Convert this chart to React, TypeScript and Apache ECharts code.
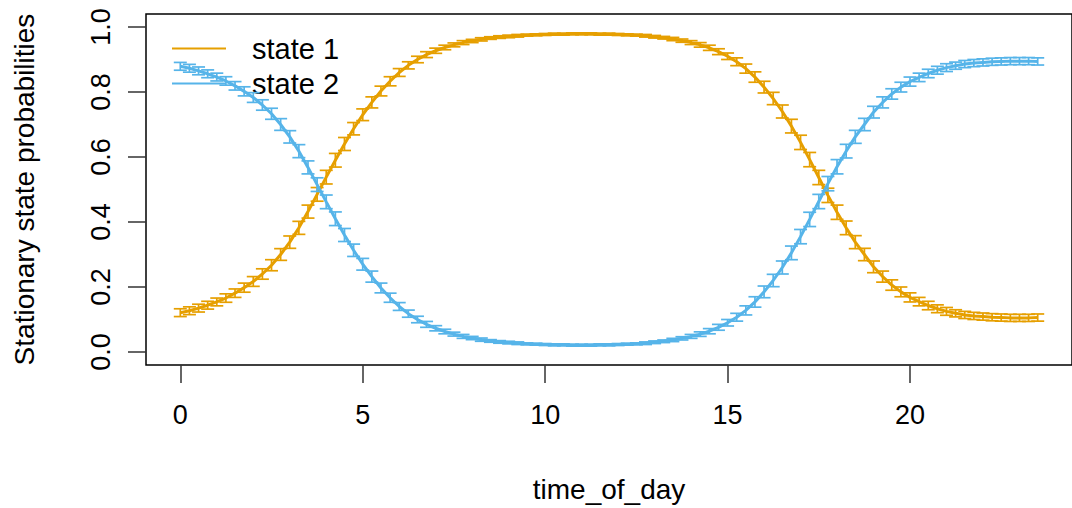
import React, { useEffect, useRef } from "react";
import * as echarts from "echarts";

const hours = [
  0, 0.25, 0.5, 0.75, 1, 1.25, 1.5, 1.75, 2, 2.25, 2.5, 2.75, 3, 3.25, 3.5, 3.75,
  4, 4.25, 4.5, 4.75, 5, 5.25, 5.5, 5.75, 6, 6.25, 6.5, 6.75, 7, 7.25, 7.5, 7.75,
  8, 8.25, 8.5, 8.75, 9, 9.25, 9.5, 9.75, 10, 10.25, 10.5, 10.75, 11, 11.25, 11.5, 11.75,
  12, 12.25, 12.5, 12.75, 13, 13.25, 13.5, 13.75, 14, 14.25, 14.5, 14.75, 15, 15.25, 15.5, 15.75,
  16, 16.25, 16.5, 16.75, 17, 17.25, 17.5, 17.75, 18, 18.25, 18.5, 18.75, 19, 19.25, 19.5, 19.75,
  20, 20.25, 20.5, 20.75, 21, 21.25, 21.5, 21.75, 22, 22.25, 22.5, 22.75, 23, 23.25, 23.5,
];

const state1 = [
  0.121, 0.127, 0.135, 0.144, 0.154, 0.166, 0.181, 0.198, 0.217, 0.24, 0.267, 0.3, 0.338, 0.382, 0.432, 0.485,
  0.538, 0.59, 0.64, 0.687, 0.73, 0.768, 0.803, 0.833, 0.86, 0.882, 0.9, 0.915, 0.927, 0.937, 0.945, 0.952,
  0.957, 0.962, 0.966, 0.969, 0.971, 0.973, 0.975, 0.976, 0.977, 0.978, 0.978, 0.979, 0.979, 0.979, 0.978, 0.978,
  0.977, 0.976, 0.975, 0.973, 0.97, 0.967, 0.963, 0.958, 0.952, 0.945, 0.936, 0.924, 0.91, 0.893, 0.872, 0.846,
  0.815, 0.78, 0.74, 0.695, 0.645, 0.592, 0.537, 0.482, 0.43, 0.382, 0.338, 0.3, 0.262, 0.232, 0.206, 0.185,
  0.168, 0.155, 0.143, 0.133, 0.125, 0.119, 0.114, 0.111, 0.109, 0.107, 0.106, 0.105, 0.105, 0.105, 0.106,
];

const state2 = [
  0.879, 0.873, 0.865, 0.856, 0.846, 0.834, 0.819, 0.802, 0.783, 0.76, 0.733, 0.7, 0.662, 0.618, 0.568, 0.515,
  0.462, 0.41, 0.36, 0.313, 0.27, 0.232, 0.197, 0.167, 0.14, 0.118, 0.1, 0.085, 0.073, 0.063, 0.055, 0.048,
  0.043, 0.038, 0.034, 0.031, 0.029, 0.027, 0.025, 0.024, 0.023, 0.022, 0.022, 0.021, 0.021, 0.021, 0.022, 0.022,
  0.023, 0.024, 0.025, 0.027, 0.03, 0.033, 0.037, 0.042, 0.048, 0.055, 0.064, 0.076, 0.09, 0.107, 0.128, 0.154,
  0.185, 0.22, 0.26, 0.305, 0.355, 0.408, 0.463, 0.518, 0.57, 0.618, 0.662, 0.7, 0.738, 0.768, 0.794, 0.815,
  0.832, 0.845, 0.857, 0.867, 0.875, 0.881, 0.886, 0.889, 0.891, 0.893, 0.894, 0.895, 0.895, 0.895, 0.894,
];

const ciHalf = [
  0.012, 0.012, 0.012, 0.012, 0.012, 0.013, 0.013, 0.014, 0.015, 0.016, 0.017, 0.018, 0.019, 0.02, 0.02, 0.021,
  0.021, 0.021, 0.02, 0.019, 0.018, 0.017, 0.015, 0.014, 0.012, 0.011, 0.01, 0.009, 0.008, 0.007, 0.006, 0.006,
  0.005, 0.005, 0.004, 0.004, 0.004, 0.004, 0.003, 0.003, 0.003, 0.003, 0.003, 0.003, 0.003, 0.003, 0.003, 0.003,
  0.003, 0.003, 0.003, 0.004, 0.004, 0.004, 0.005, 0.005, 0.006, 0.007, 0.008, 0.009, 0.01, 0.012, 0.014, 0.016,
  0.018, 0.019, 0.02, 0.021, 0.022, 0.022, 0.022, 0.022, 0.022, 0.021, 0.02, 0.019, 0.018, 0.017, 0.016, 0.015,
  0.014, 0.013, 0.013, 0.012, 0.012, 0.011, 0.011, 0.011, 0.011, 0.011, 0.011, 0.011, 0.011, 0.011, 0.011,
];

const xTicks = [0, 5, 10, 15, 20];
const yTicks = [0, 0.2, 0.4, 0.6, 0.8, 1.0];
const seriesNames = ["state 1", "state 2"];
const colors = ["#E69F00", "#56B4E9"];

const FONT = "Liberation Sans, Arial, sans-serif";

export default function App() {
  const ref = useRef<HTMLDivElement>(null);

  useEffect(() => {
    if (!ref.current) return;
    const chart = echarts.init(ref.current, null, { renderer: "svg" });

    const values = [state1, state2];
    const series: any[] = [];
    values.forEach((vals, i) => {
      series.push({
        name: seriesNames[i],
        type: "line",
        data: hours.map((h, k) => [h, vals[k]]),
        showSymbol: false,
        symbol: "none",
        lineStyle: { color: colors[i], width: 3 },
        itemStyle: { color: colors[i] },
        z: 3 + i,
      });
      series.push({
        name: seriesNames[i] + " CI",
        type: "custom",
        data: hours.map((h, k) => [h, vals[k] - ciHalf[k], vals[k] + ciHalf[k]]),
        z: 3 + i,
        renderItem: (params: any, api: any) => {
          const x = api.value(0);
          const lo = api.coord([x, api.value(1)]);
          const hi = api.coord([x, api.value(2)]);
          const w = 6.5;
          const style = { stroke: colors[i], lineWidth: 1.7, fill: "none" };
          return {
            type: "group",
            children: [
              { type: "line", shape: { x1: lo[0], y1: lo[1], x2: hi[0], y2: hi[1] }, style },
              { type: "line", shape: { x1: lo[0] - w, y1: lo[1], x2: lo[0] + w, y2: lo[1] }, style },
              { type: "line", shape: { x1: hi[0] - w, y1: hi[1], x2: hi[0] + w, y2: hi[1] }, style },
            ],
          };
        },
      });
    });

    chart.setOption({
      animation: false,
      backgroundColor: "#fff",
      grid: {
        left: 146,
        top: 14,
        width: 933,
        height: 351,
        show: true,
        borderColor: "#000",
        borderWidth: 1.5,
        backgroundColor: "transparent",
      },
      legend: {
        data: seriesNames,
        orient: "vertical",
        left: 172,
        top: 34,
        padding: 0,
        itemWidth: 54,
        itemHeight: 2,
        icon: "rect",
        itemGap: 6,
        textStyle: { fontSize: 29, color: "#000", fontFamily: FONT, padding: [0, 0, 0, 21] },
      },
      xAxis: {
        type: "value",
        min: -0.94,
        max: 24.44,
        name: "time_of_day",
        nameLocation: "middle",
        nameGap: 110,
        nameTextStyle: { fontSize: 28, color: "#000", fontFamily: FONT },
        axisLine: { show: false, onZero: false },
        axisTick: { show: true, length: 18, customValues: xTicks, lineStyle: { color: "#333", width: 1.5 } },
        axisLabel: {
          customValues: xTicks,
          fontSize: 27,
          color: "#000",
          fontFamily: FONT,
          margin: 36,
          formatter: (v: number) => String(v),
        },
        splitLine: { show: false },
      },
      yAxis: {
        type: "value",
        min: -0.04,
        max: 1.04,
        name: "Stationary state probabilities",
        nameLocation: "middle",
        nameGap: 108,
        nameTextStyle: { fontSize: 28, color: "#000", fontFamily: FONT },
        axisLine: { show: false, onZero: false },
        axisTick: { show: true, length: 18, customValues: yTicks, lineStyle: { color: "#333", width: 1.5 } },
        axisLabel: {
          customValues: yTicks,
          rotate: 90,
          fontSize: 27,
          color: "#000",
          fontFamily: FONT,
          margin: 32,
          formatter: (v: number) => v.toFixed(1),
        },
        splitLine: { show: false },
      },
      series,
    });

    return () => chart.dispose();
  }, []);

  return (
    <div
      ref={ref}
      style={{ position: "fixed", left: 0, top: 0, width: 1072, height: 508 }}
    />
  );
}
